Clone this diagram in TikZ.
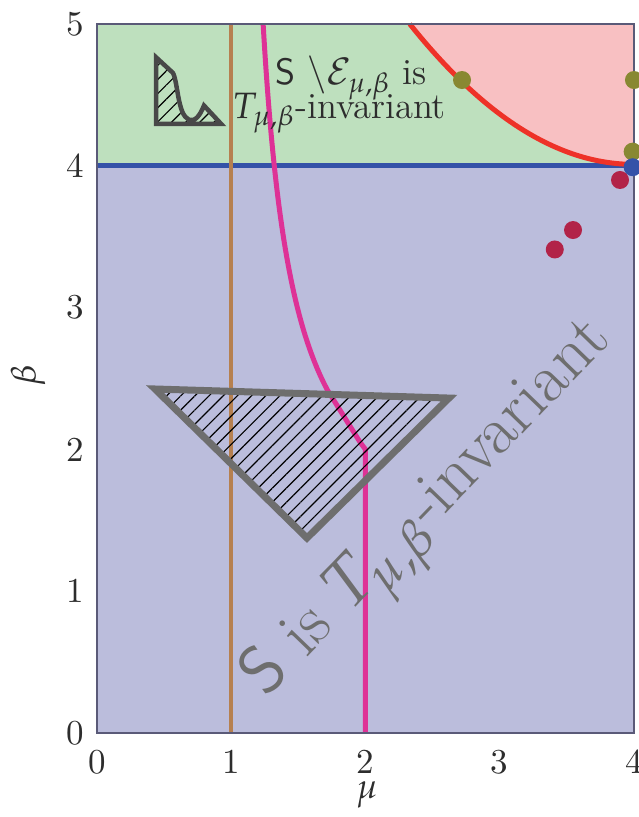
\documentclass[tikz,border=0pt]{standalone}
\usepackage{mathpazo}
\usetikzlibrary{patterns.meta}
\definecolor{cgreen}{RGB}{190,224,190}
\definecolor{cpink}{RGB}{248,192,194}
\definecolor{clav}{RGB}{187,189,220}
\definecolor{cblue}{RGB}{52,82,168}
\definecolor{cbrown}{RGB}{182,128,80}
\definecolor{cmag}{RGB}{222,50,150}
\definecolor{cred}{RGB}{238,50,40}
\definecolor{colive}{RGB}{136,136,50}
\definecolor{ccrim}{RGB}{178,35,72}
\definecolor{cgray}{RGB}{110,110,110}
\definecolor{cdark}{RGB}{72,72,72}
\definecolor{cframe}{RGB}{90,90,120}
\definecolor{ctext}{RGB}{45,45,45}
\tikzset{
  ticklab/.style={font=\fontsize{10.5}{12}\selectfont, text=ctext},
  hatchfill/.style={pattern={Lines[angle=45,distance=3pt,line width=0.35pt]}, pattern color=black},
  olivedot/.style={fill=colive},
  crimdot/.style={fill=ccrim},
}
\begin{document}
\begin{tikzpicture}[x=40.275pt,y=42.54pt]
\useasboundingbox (-0.7225,-0.5924) rectangle (4.0373,5.1693);
% region fills
\fill[clav] (0,0) rectangle (4,4);
\fill[cgreen] (0,4) rectangle (4,5);
\fill[cpink] plot[domain=2.33:4, samples=50] (\x,{4.01+0.355*(4-\x)^2}) -- (4,5) -- cycle;
% boundary lines
\draw[cblue, line width=1.5pt] (0,4) -- (4,4);
\draw[cred, line width=1.5pt] plot[domain=2.33:4, samples=50] (\x,{4.01+0.355*(4-\x)^2});
\draw[cbrown, line width=1.2pt] (1,0) -- (1,5);
\draw[cmag, line width=1.5pt, line join=round] plot[domain=5:2.42, samples=50, variable=\b] ({1+1/(1.09*\b-1.24)},\b) -- (1.96,2.05) -- (2,2.0) -- (2,0);
% frame
\draw[cframe, line width=0.4pt] (0,0) rectangle (4,5);
% big hatched triangle
\draw[cgray, line width=2.1pt, hatchfill] (0.432,2.426) -- (2.622,2.362) -- (1.564,1.375) -- cycle;
% small hatched inset shape
\draw[cdark, line width=1.35pt, hatchfill] (0.44,4.765) -- (0.566,4.655)
  .. controls (0.605,4.58) and (0.60,4.36) .. (0.685,4.325)
  .. controls (0.73,4.31) and (0.765,4.35) .. (0.797,4.425)
  -- (0.925,4.295) -- (0.44,4.295) -- cycle;
% dots
\fill[olivedot] (2.719,4.605) circle (2.7pt);
\fill[olivedot] (4,4.605) circle (2.7pt);
\fill[olivedot] (3.99,4.1) circle (2.7pt);
\fill[cblue] (3.99,3.99) circle (2.7pt);
\fill[crimdot] (3.896,3.9) circle (2.7pt);
\fill[crimdot] (3.546,3.547) circle (2.7pt);
\fill[crimdot] (3.41,3.41) circle (2.7pt);
% texts
\node[text=ctext, font=\fontsize{11}{13}\selectfont] (t1) at (1.892,4.619) {\textsf{S} $\setminus\mathcal{E}_{\mu,\beta}$ is};
\node[text=ctext, font=\fontsize{11}{13}\selectfont] (t2) at (1.803,4.372) {$T_{\mu,\beta}$-invariant};
\node[text=cgray, rotate=46, font=\fontsize{20.5}{24}\selectfont] (t3) at (2.495,1.552) {\textsf{S} is $T_{\mu,\beta}$-invariant};
% ticks
\foreach \v in {0,1,2,3,4} \node[ticklab] (xt\v) at (\v,-0.2045) {\v};
\foreach \v in {0,1,2,3,4,5} \node[ticklab] (yt\v) at (-0.164,\v) {\v};
\node[ticklab] (xl) at (2.011,-0.437) {$\mu$};
\node[ticklab, rotate=90] (yl) at (-0.514,2.525) {$\beta$};
\end{tikzpicture}
\end{document}
